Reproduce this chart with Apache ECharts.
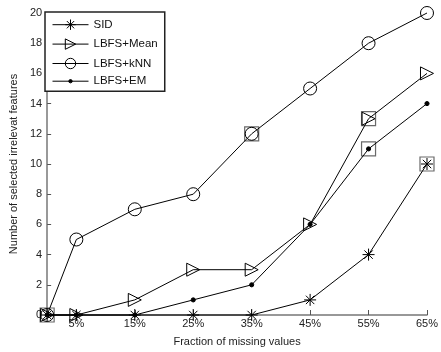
<!DOCTYPE html>
<html>
<head>
<meta charset="utf-8">
<script src="https://cdn.jsdelivr.net/npm/echarts@6/dist/echarts.min.js"></script>
<style>
  html, body { margin: 0; padding: 0; background: #fff; }
  #chart { width: 441px; height: 352px; }
</style>
</head>
<body>
<div id="chart"></div>
<script>
var fractions = [0, 5, 15, 25, 35, 45, 55, 65];
var xTicks = [5, 15, 25, 35, 45, 55, 65];
var sid = [0, 0, 0, 0, 0, 1, 4, 10];
var lbfsMean = [0, 0, 1, 3, 3, 6, 13, 16];
var lbfsKnn = [0, 5, 7, 8, 12, 15, 18, 20];
var lbfsEm = [0, 0, 0, 1, 2, 6, 11, 14];
// highlighted points (square boxes)
var boxX = [0, 35, 55, 55, 65];
var boxY = [0, 12, 13, 11, 10];

function pairs(ys) {
    return fractions.map(function (x, i) { return [x, ys[i]]; });
}

var chart = echarts.init(document.getElementById('chart'));

var asterisk = 'path://M0,5L10,5M5,0L5,10M1.5,1.5L8.5,8.5M8.5,1.5L1.5,8.5';
var triRight = 'path://M0,0L10,5L0,10Z';
var circ = 'path://M5,0A5,5,0,1,1,5,10A5,5,0,1,1,5,0Z';
// small dot inside a 10x10 box so legend and plot keep it small
var dot = 'path://M0,0M10,10M5,3.4A1.6,1.6,0,1,1,5,6.6A1.6,1.6,0,1,1,5,3.4Z';
var fontFam = 'Liberation Sans, Arial, sans-serif';

function lineSeries(name, data, symbol, size, fill) {
    return {
        name: name,
        type: 'line',
        data: pairs(data),
        symbol: symbol,
        symbolSize: size,
        showAllSymbol: true,
        clip: false,
        lineStyle: { color: '#000', width: 1 },
        itemStyle: { color: fill, borderColor: '#000', borderWidth: 1 },
        emphasis: { disabled: true },
        z: 3
    };
}

var option = {
    animation: false,
    textStyle: { fontFamily: fontFam },
    grid: { left: 42, right: 9, top: 13, bottom: 32 },
    legend: {
        data: ['SID', 'LBFS+Mean', 'LBFS+kNN', 'LBFS+EM'],
        orient: 'vertical',
        left: 45,
        top: 12,
        backgroundColor: '#fff',
        borderColor: '#222',
        borderWidth: 1.5,
        borderRadius: 0,
        padding: [5, 7, 4, 7],
        itemGap: 4,
        itemWidth: 36,
        itemHeight: 13,
        lineStyle: { width: 1, color: '#000' },
        itemStyle: { borderWidth: 1, borderColor: '#000' },
        textStyle: { fontSize: 11.5, color: '#111', fontFamily: fontFam }
    },
    xAxis: {
        type: 'value',
        min: 0,
        max: 65,
        name: 'Fraction of missing values',
        nameLocation: 'middle',
        nameGap: 21,
        nameTextStyle: { fontSize: 11, color: '#222' },
        axisLine: { lineStyle: { color: '#777', width: 1.5 } },
        axisTick: { inside: true, length: 5, customValues: xTicks, lineStyle: { color: '#555' } },
        axisLabel: {
            customValues: xTicks,
            formatter: function (v) { return v + '%'; },
            fontSize: 11, color: '#222', margin: 3
        },
        splitLine: { show: false }
    },
    yAxis: {
        type: 'value',
        min: 0,
        max: 20,
        interval: 2,
        name: 'Number of selected irrelevat features',
        nameLocation: 'middle',
        nameGap: 27,
        nameTextStyle: { fontSize: 11, color: '#222' },
        axisLine: { show: true, lineStyle: { color: '#777', width: 1.5 } },
        axisTick: { show: true, inside: true, length: 4, lineStyle: { color: '#555' } },
        axisLabel: { fontSize: 11, color: '#222', margin: 5 },
        splitLine: { show: false }
    },
    series: [
        lineSeries('SID', sid, asterisk, 12, 'none'),
        lineSeries('LBFS+Mean', lbfsMean, triRight, 13, 'none'),
        lineSeries('LBFS+kNN', lbfsKnn, circ, 13, 'none'),
        lineSeries('LBFS+EM', lbfsEm, dot, 13, '#000'),
        {
            name: 'boxes',
            type: 'scatter',
            data: boxX.map(function (x, i) { return [x, boxY[i]]; }),
            symbol: 'rect',
            symbolSize: 14,
            clip: false,
            itemStyle: { color: 'none', borderColor: '#444', borderWidth: 1.2 },
            emphasis: { disabled: true },
            z: 2
        }
    ]
};

chart.setOption(option);
</script>
</body>
</html>
